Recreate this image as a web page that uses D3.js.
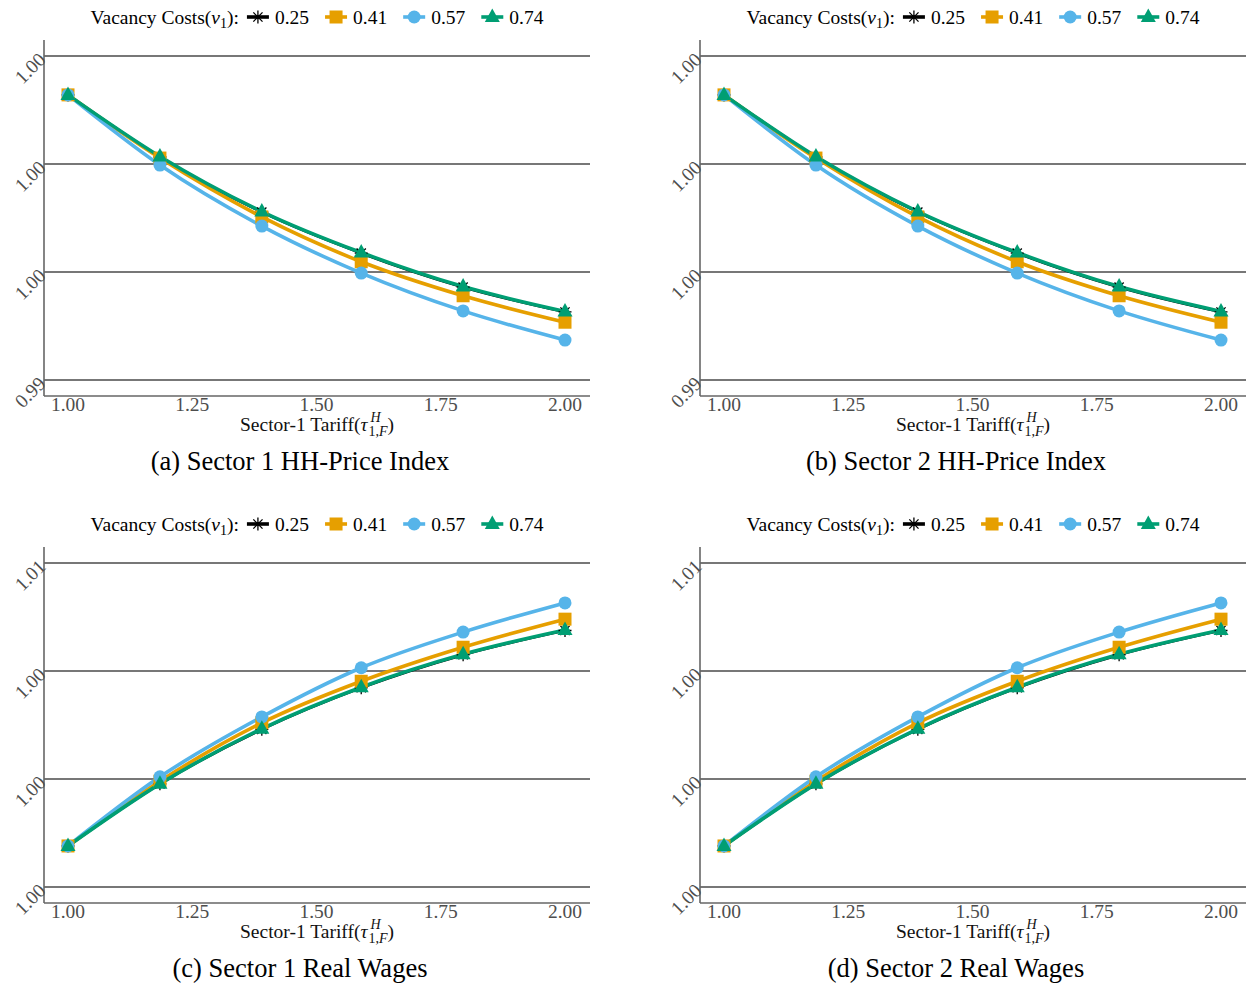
<!DOCTYPE html>
<html>
<head>
<meta charset="utf-8">
<script src="https://cdn.jsdelivr.net/npm/d3@7"></script>
<style>
  body { margin: 0; background: #fff; }
  text { font-family: "Liberation Serif", "DejaVu Serif", serif; }
</style>
</head>
<body>
<svg id="chart" width="1247" height="984"></svg>
<script>
// tariff values on the x axis
const tariff = [1.00, 1.185, 1.39, 1.59, 1.795, 2.00];
const vacancyCosts = ["0.25", "0.41", "0.57", "0.74"];
const xTicks = [1.00, 1.25, 1.50, 1.75, 2.00];

// (a) sector 1 HH price index
const price1_025 = [0.99928, 0.99813, 0.99711, 0.99635, 0.99572, 0.99526];
const price1_041 = [0.99928, 0.99811, 0.99702, 0.99619, 0.99556, 0.99507];
const price1_057 = [0.99928, 0.99798, 0.99685, 0.99598, 0.99528, 0.99474];
const price1_074 = [0.99928, 0.99814, 0.99712, 0.99636, 0.99573, 0.99527];
// (b) sector 2 HH price index
const price2_025 = [0.99928, 0.99813, 0.99711, 0.99635, 0.99572, 0.99526];
const price2_041 = [0.99928, 0.99811, 0.99702, 0.99619, 0.99556, 0.99507];
const price2_057 = [0.99928, 0.99798, 0.99685, 0.99598, 0.99528, 0.99474];
const price2_074 = [0.99928, 0.99814, 0.99712, 0.99636, 0.99573, 0.99527];
// (c) sector 1 real wages
const wage1_025 = [1.00076, 1.00191, 1.00292, 1.00369, 1.00430, 1.00475];
const wage1_041 = [1.00076, 1.00196, 1.00304, 1.00381, 1.00444, 1.00496];
const wage1_057 = [1.00076, 1.00204, 1.00315, 1.00406, 1.00472, 1.00526];
const wage1_074 = [1.00076, 1.00191, 1.00293, 1.00370, 1.00431, 1.00476];
// (d) sector 2 real wages
const wage2_025 = [1.00076, 1.00191, 1.00292, 1.00369, 1.00430, 1.00475];
const wage2_041 = [1.00076, 1.00196, 1.00304, 1.00381, 1.00444, 1.00496];
const wage2_057 = [1.00076, 1.00204, 1.00315, 1.00406, 1.00472, 1.00526];
const wage2_074 = [1.00076, 1.00191, 1.00293, 1.00370, 1.00431, 1.00476];

const priceTicks = [0.994, 0.996, 0.998, 1.000];
const wageTicks = [1.000, 1.002, 1.004, 1.006];

const colors = ["#000000", "#E69F00", "#56B4E9", "#009E73"];
const shapes = ["star", "square", "circle", "triangle"];

const panels = [
  {dx: 0,   dy: 0,   caption: "(a) Sector 1 HH-Price Index", series: [price1_025, price1_041, price1_057, price1_074], ticks: priceTicks},
  {dx: 656, dy: 0,   caption: "(b) Sector 2 HH-Price Index", series: [price2_025, price2_041, price2_057, price2_074], ticks: priceTicks},
  {dx: 0,   dy: 507, caption: "(c) Sector 1 Real Wages", series: [wage1_025, wage1_041, wage1_057, wage1_074], ticks: wageTicks},
  {dx: 656, dy: 507, caption: "(d) Sector 2 Real Wages", series: [wage2_025, wage2_041, wage2_057, wage2_074], ticks: wageTicks}
];

const svg = d3.select("#chart");
const plotL = 44, plotR = 590, plotT = 40, plotB = 396, pad = 16;
const fmt = d3.format(".2f");

function marker(sel, shape, color) {
  if (shape === "star") {
    const r = 6.5, q = r * 0.7071;
    sel.append("path")
      .attr("d", `M0,${-r}L0,${r}M${-r},0L${r},0M${-q},${-q}L${q},${q}M${-q},${q}L${q},${-q}`)
      .attr("stroke", color).attr("stroke-width", 1.3).attr("fill", "none");
  } else if (shape === "square") {
    sel.append("rect").attr("x", -6.5).attr("y", -6.5).attr("width", 13).attr("height", 13).attr("fill", color);
  } else if (shape === "circle") {
    sel.append("circle").attr("r", 6.5).attr("fill", color);
  } else {
    sel.append("path").attr("d", "M0,-8.5L7.5,5L-7.5,5Z").attr("fill", color);
  }
}

function drawPanel(p) {
  const g = svg.append("g").attr("transform", `translate(${p.dx},${p.dy})`);
  const x = d3.scaleLinear().domain([1, 2]).range([68, 565]);
  const y = d3.scaleLinear().domain(d3.extent(p.ticks)).range([plotB - pad, plotT + pad]);

  // grid lines
  g.append("g").selectAll("line").data(p.ticks).join("line")
    .attr("x1", plotL).attr("x2", plotR)
    .attr("y1", d => y(d)).attr("y2", d => y(d))
    .attr("stroke", "#4a4a4a").attr("stroke-width", 1.3);

  // axis lines
  g.append("line").attr("x1", plotL).attr("x2", plotL).attr("y1", plotT).attr("y2", plotB)
    .attr("stroke", "#666").attr("stroke-width", 1.6);
  g.append("line").attr("x1", plotL).attr("x2", plotR).attr("y1", plotB).attr("y2", plotB)
    .attr("stroke", "#666").attr("stroke-width", 1.6);

  // y tick labels, rotated
  g.append("g").selectAll("text").data(p.ticks).join("text")
    .attr("transform", d => `translate(${plotL - 2},${y(d)}) rotate(-45)`)
    .attr("text-anchor", "end").attr("dy", "0.35em")
    .attr("font-size", 19.5).attr("fill", "#4d4d4d")
    .text(d => fmt(d));

  // x tick labels
  g.append("g").selectAll("text").data(xTicks).join("text")
    .attr("x", d => x(d)).attr("y", 411)
    .attr("text-anchor", "middle").attr("font-size", 19.5).attr("fill", "#4d4d4d")
    .text(d => fmt(d));

  // x axis title: main text, then stacked super/subscript as separate texts
  const xt = g.append("text").attr("y", 431).attr("font-size", 19.5).attr("fill", "#111");
  xt.append("tspan").text("Sector-1 Tariff(");
  xt.append("tspan").attr("font-style", "italic").text("τ");
  const w1 = xt.node().getComputedTextLength();
  const sup = g.append("text").attr("y", 422).attr("font-size", 14).attr("font-style", "italic")
    .attr("fill", "#111").text("H");
  const sub = g.append("text").attr("y", 436).attr("font-size", 14).attr("fill", "#111");
  sub.append("tspan").text("1,");
  sub.append("tspan").attr("font-style", "italic").text("F");
  const w2 = Math.max(sup.node().getComputedTextLength(), sub.node().getComputedTextLength());
  const close = g.append("text").attr("y", 431).attr("font-size", 19.5).attr("fill", "#111").text(")");
  const w3 = close.node().getComputedTextLength();
  const x0 = 317 - (w1 + 1 + w2 + w3) / 2;
  xt.attr("x", x0);
  sup.attr("x", x0 + w1 + 3);
  sub.attr("x", x0 + w1 + 1);
  close.attr("x", x0 + w1 + 1 + w2);

  // caption
  g.append("text").attr("x", 300).attr("y", 470).attr("text-anchor", "middle")
    .attr("font-size", 26.5).attr("fill", "#000").text(p.caption);

  // lines
  const line = d3.line().x((d, i) => x(tariff[i])).y(d => y(d)).curve(d3.curveMonotoneX);
  p.series.forEach((s, k) => {
    g.append("path").datum(s).attr("d", line)
      .attr("fill", "none").attr("stroke", colors[k]).attr("stroke-width", k === 0 ? 2.8 : 3.6);
  });
  p.series.forEach((s, k) => {
    g.append("g").selectAll("g").data(s).join("g")
      .attr("transform", (d, i) => `translate(${x(tariff[i])},${y(d)})`)
      .each(function() { marker(d3.select(this), shapes[k], colors[k]); });
  });

  // legend
  const lg = g.append("g");
  let cx = 0;
  const title = lg.append("text").attr("x", cx).attr("y", 24).attr("font-size", 19.5).attr("fill", "#000");
  title.append("tspan").text("Vacancy Costs(");
  title.append("tspan").attr("font-style", "italic").text("ν");
  title.append("tspan").attr("font-size", 14).attr("dy", 4).text("1");
  title.append("tspan").attr("dy", -4).text("):");
  cx += title.node().getComputedTextLength() + 8;
  vacancyCosts.forEach((v, k) => {
    lg.append("line").attr("x1", cx).attr("x2", cx + 22).attr("y1", 17).attr("y2", 17)
      .attr("stroke", colors[k]).attr("stroke-width", 3.6);
    const m = lg.append("g").attr("transform", `translate(${cx + 11},17)`);
    marker(m, shapes[k], colors[k]);
    cx += 28;
    const t = lg.append("text").attr("x", cx).attr("y", 24).attr("font-size", 19.5).text(v);
    cx += t.node().getComputedTextLength() + 16;
  });
  cx -= 16;
  lg.attr("transform", `translate(${317 - cx / 2},0)`);
}

panels.forEach(drawPanel);
</script>
</body>
</html>
